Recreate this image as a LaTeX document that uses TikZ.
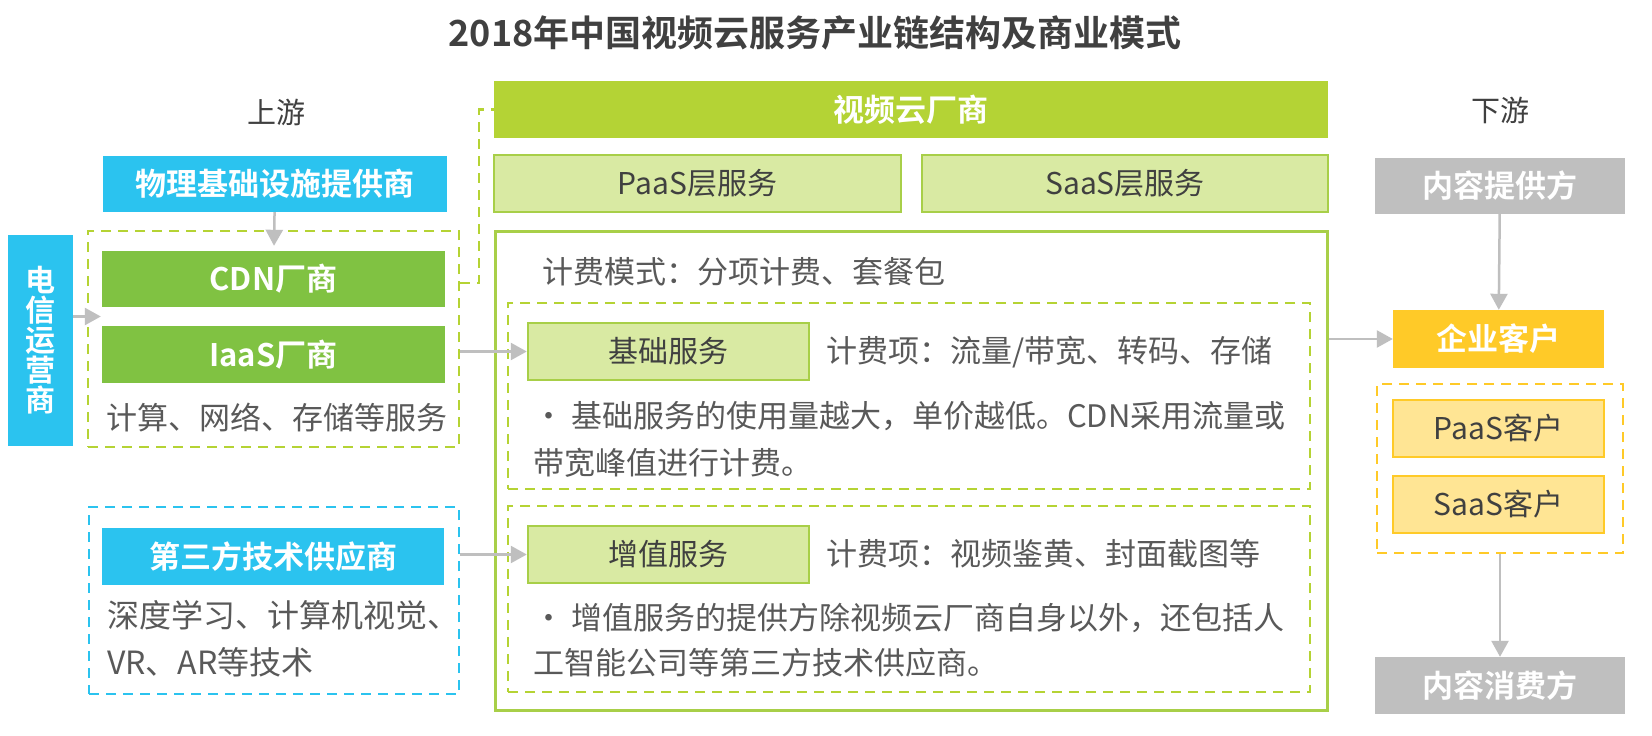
\documentclass[tikz,border=0pt]{standalone}
\usepackage{fontspec}
\setmainfont{Noto Sans CJK SC}[BoldFont={Noto Sans CJK SC Bold}]
\usetikzlibrary{arrows.meta,calc}
\definecolor{cyanb}{HTML}{2BC3EF}
\definecolor{greenb}{HTML}{80C242}
\definecolor{limeb}{HTML}{B4D335}
\definecolor{lightg}{HTML}{D9EAA3}
\definecolor{borderg}{HTML}{A8CF48}
\definecolor{dashg}{HTML}{B5D334}
\definecolor{grayb}{HTML}{BFBFBF}
\definecolor{yellowb}{HTML}{FFCA28}
\definecolor{lighty}{HTML}{FFE594}
\definecolor{txt}{HTML}{404040}
\definecolor{bodytxt}{HTML}{595959}
\definecolor{arrowc}{HTML}{BFBFBF}
\tikzset{
  boxfont/.style={font=\fontsize{31pt}{35pt}\selectfont\bfseries},
  solidbox/.style={rectangle, inner sep=0pt, text=white, boxfont},
  cyanbox/.style={solidbox, fill=cyanb},
  greenbox/.style={solidbox, fill=greenb},
  limebox/.style={solidbox, fill=limeb},
  graybox/.style={solidbox, fill=grayb},
  yellowbox/.style={solidbox, fill=yellowb},
  lightbox/.style={rectangle, inner sep=0pt, fill=lightg, draw=borderg, line width=2.5pt, text=txt, font=\fontsize{30pt}{34pt}\selectfont},
  lyellowbox/.style={rectangle, inner sep=0pt, fill=lighty, draw=yellowb, line width=2.5pt, text=txt, font=\fontsize{30pt}{34pt}\selectfont},
  dashbox/.style={rectangle, inner sep=0pt, line width=2.5pt, dash pattern=on 10pt off 7pt},
  mainframe/.style={rectangle, inner sep=0pt, draw=borderg, line width=3pt},
  bodyt/.style={inner sep=0pt, text=bodytxt, font=\fontsize{31pt}{47pt}\selectfont},
  headt/.style={inner sep=0pt, text=txt, font=\fontsize{29pt}{33pt}\selectfont},
  titlet/.style={inner sep=0pt, text=txt, font=\fontsize{36pt}{40pt}\selectfont\bfseries},
  arr/.style={draw=arrowc, line width=2.5pt, -{Triangle[length=16pt,width=17pt]}},
  dashline/.style={draw=dashg, line width=2.5pt, dash pattern=on 10pt off 7pt}
}
\begin{document}
\begin{tikzpicture}[x=1pt,y=-1pt]
\fill[white] (0,0) rectangle (1652,736);
\useasboundingbox (0,0) rectangle (1652,736);

\node[titlet] (title) at (815,33) {2018年中国视频云服务产业链结构及商业模式};
\node[headt] (up) at (276,112) {上游};
\node[headt] (down) at (1500,110) {下游};

% ---------- upstream ----------
\node[cyanbox, minimum width=344, minimum height=56] (phys) at (275,184) {物理基础设施提供商};
\node[dashbox, draw=dashg, minimum width=371, minimum height=216] (leftdash) at (273.5,339) {};
\node[greenbox, minimum width=343, minimum height=56] (cdn) at (273.5,279) {CDN厂商};
\node[greenbox, minimum width=343, minimum height=57] (iaas) at (273.5,354.5) {IaaS厂商};
\node[bodyt, font=\fontsize{31pt}{36pt}\selectfont] (compute) at (277,418) {计算、网络、存储等服务};
\node[cyanbox, minimum width=65, minimum height=211, align=center, font=\fontsize{30pt}{30pt}\selectfont\bfseries] (telecom) at (40.5,340.5) {电\\信\\运\\营\\商};

\node[dashbox, draw=cyanb, minimum width=370, minimum height=187] (cyandash) at (274,600.5) {};
\node[cyanbox, minimum width=342, minimum height=57] (third) at (273,556.5) {第三方技术供应商};
\node[bodyt, anchor=west, align=left, font=\fontsize{32pt}{47pt}\selectfont] (thirdtxt) at (107,638.5) {深度学习、计算机视觉、\\VR、AR等技术};

% ---------- video cloud vendors ----------
\node[limebox, minimum width=834, minimum height=57] (cloud) at (911,109.5) {视频云厂商};
\node[lightbox, minimum width=407, minimum height=57] (paas) at (697.5,183.5) {PaaS层服务};
\node[lightbox, minimum width=406, minimum height=57] (saas) at (1125,183.5) {SaaS层服务};
\node[mainframe, minimum width=832, minimum height=479] (main) at (911,470.5) {};
\node[bodyt, anchor=west] (billing) at (542,272) {计费模式：分项计费、套餐包};

\node[dashbox, draw=dashg, minimum width=802, minimum height=186] (basicdash) at (909,396) {};
\node[lightbox, minimum width=281, minimum height=57] (basic) at (668.5,351.5) {基础服务};
\node[bodyt, anchor=west] (basicfee) at (826,352) {计费项：流量/带宽、转码、存储};
\node[bodyt, anchor=west, align=left] (basictxt) at (533,439) {\makebox[38pt][l]{•}基础服务的使用量越大，单价越低。CDN采用流量或\\带宽峰值进行计费。};

\node[dashbox, draw=dashg, minimum width=802, minimum height=186] (vadash) at (909,599) {};
\node[lightbox, minimum width=281, minimum height=57] (va) at (668.5,554.5) {增值服务};
\node[bodyt, anchor=west] (vafee) at (826,554) {计费项：视频鉴黄、封面截图等};
\node[bodyt, anchor=west, align=left, font=\fontsize{31pt}{45pt}\selectfont] (vatxt) at (533,640.5) {\makebox[38pt][l]{•}增值服务的提供方除视频云厂商自身以外，还包括人\\工智能公司等第三方技术供应商。};

% ---------- downstream ----------
\node[graybox, minimum width=250, minimum height=56] (cp) at (1500,186) {内容提供方};
\node[yellowbox, minimum width=211, minimum height=58] (ent) at (1498.5,339) {企业客户};
\node[dashbox, draw=yellowb, minimum width=246, minimum height=169] (ydash) at (1500,468.5) {};
\node[lyellowbox, minimum width=211, minimum height=57] (paasc) at (1498.5,428.5) {PaaS客户};
\node[lyellowbox, minimum width=211, minimum height=57] (saasc) at (1498.5,504.5) {SaaS客户};
\node[graybox, minimum width=250, minimum height=57] (consumer) at (1500,685.5) {内容消费方};

% ---------- connectors ----------
\coordinate (tin) at ($(cdn.south west)!0.5!(iaas.north west)$);
\coordinate (dl) at (479,283);
\draw[arr, shorten >=5pt] (phys) -- (cdn);
\draw[arr, shorten >=1pt] (telecom.east |- tin) -- (tin);
\draw[arr] (leftdash.east |- basic.west) -- (basic.west);
\draw[arr] (cyandash.east |- va.west) -- (va.west);
\draw[arr] (main.east |- ent.west) -- (ent.west);
\draw[arr] (cp) -- (ent);
\draw[arr] (ydash) -- (consumer);
\draw[dashline] (leftdash.east |- dl) -- (dl) |- (cloud.west);
\end{tikzpicture}
\end{document}
